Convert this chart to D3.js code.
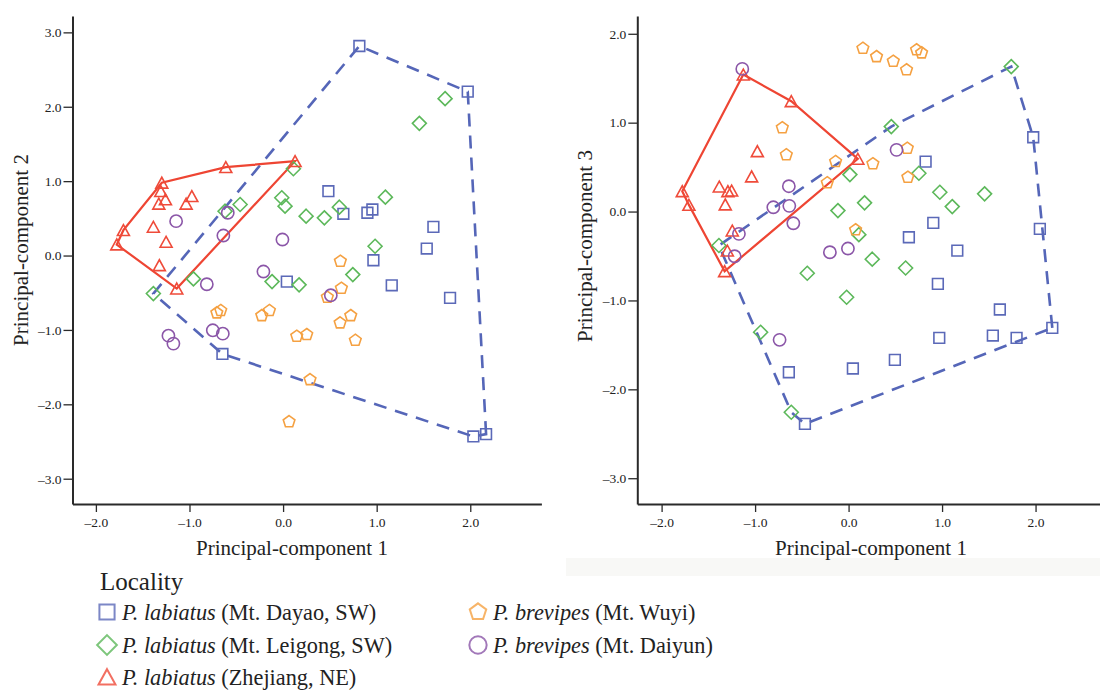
<!DOCTYPE html>
<html>
<head>
<meta charset="utf-8">
<script src="https://cdn.jsdelivr.net/npm/d3@7"></script>
<style>
  body { margin: 0; background: #fff; }
  svg { display: block; font-family: "Liberation Serif", "Times New Roman", serif; }
</style>
</head>
<body>
<svg id="chart" width="1100" height="690"></svg>
<script>
// --- data: PCA scores ---
// left panel: PC1 vs PC2
var pc12_dayao = [[0.815,2.817],[1.973,2.203],[0.484,0.865],[0.644,0.561],[0.901,0.575],[0.954,0.619],[1.606,0.386],[1.535,0.094],[0.965,-0.063],[0.040,-0.350],[1.161,-0.400],[1.784,-0.569],[-0.648,-1.323],[2.033,-2.432],[2.169,-2.400]];
var pc12_leigong = [[1.731,2.109],[1.456,1.777],[0.110,1.167],[-0.014,0.777],[0.021,0.664],[-0.459,0.686],[-0.620,0.596],[0.246,0.529],[0.441,0.507],[0.601,0.650],[1.093,0.785],[0.983,0.125],[0.745,-0.256],[0.171,-0.394],[-0.118,-0.350],[-0.958,-0.314],[-1.386,-0.511]];
var pc12_zhejiang = [[0.128,1.269],[-0.612,1.188],[-1.296,0.978],[-1.307,0.865],[-1.257,0.754],[-1.328,0.696],[-0.975,0.798],[-1.036,0.696],[-1.386,0.386],[-1.250,0.184],[-1.706,0.341],[-1.777,0.148],[-1.322,-0.131],[-1.136,-0.444]];
var pc12_wuyi = [[0.612,-0.077],[0.623,-0.440],[0.473,-0.561],[0.723,-0.808],[0.609,-0.906],[0.146,-1.086],[0.253,-1.063],[0.772,-1.140],[0.288,-1.669],[0.064,-2.234],[-0.708,-0.771],[-0.666,-0.740],[-0.228,-0.808],[-0.146,-0.740]];
var pc12_daiyun = [[-1.143,0.462],[-0.591,0.575],[-0.638,0.269],[-0.007,0.215],[-0.210,-0.215],[-0.815,-0.386],[-1.225,-1.077],[-1.172,-1.184],[-0.751,-1.005],[-0.644,-1.050],[0.510,-0.534]];

// right panel: PC1 vs PC3
var pc13_dayao = [[1.975,0.836],[2.046,-0.195],[2.179,-1.308],[0.824,0.562],[0.906,-0.127],[0.645,-0.289],[1.163,-0.439],[0.955,-0.813],[1.618,-1.102],[0.970,-1.421],[1.543,-1.395],[1.797,-1.421],[0.046,-1.766],[0.495,-1.668],[-0.639,-1.808],[-0.467,-2.388]];
var pc13_leigong = [[1.740,1.631],[0.457,0.956],[0.014,0.416],[0.752,0.431],[-0.114,0.011],[0.171,0.098],[0.976,0.217],[1.109,0.056],[1.455,0.199],[0.110,-0.260],[0.253,-0.536],[-0.442,-0.694],[0.610,-0.635],[-0.021,-0.964],[-0.941,-1.358],[-0.613,-2.258],[-1.387,-0.382]];
var pc13_zhejiang = [[-1.126,1.541],[-0.613,1.241],[-0.976,0.678],[-1.037,0.394],[-1.383,0.281],[-1.291,0.228],[-1.251,0.236],[-1.319,0.079],[-1.779,0.228],[-1.708,0.075],[-1.244,-0.214],[-1.297,-0.439],[-1.326,-0.672],[0.099,0.593]];
var pc13_wuyi = [[0.153,1.836],[0.299,1.743],[0.478,1.691],[0.620,1.594],[0.727,1.819],[0.781,1.785],[-0.709,0.942],[-0.666,0.638],[-0.139,0.562],[-0.228,0.323],[0.628,0.712],[0.260,0.537],[0.634,0.386],[0.075,-0.206]];
var pc13_daiyun = [[-1.137,1.605],[-0.639,0.285],[-0.805,0.048],[-0.634,0.064],[-0.591,-0.132],[-1.173,-0.251],[-1.219,-0.503],[-0.200,-0.458],[-0.007,-0.416],[0.513,0.694],[-0.738,-1.443]];

var xTicks = [-2, -1, 0, 1, 2];
var yTicksLeft = [-3, -2, -1, 0, 1, 2, 3];
var yTicksRight = [-3, -2, -1, 0, 1, 2];

var groupNames = ["dayao", "leigong", "zhejiang", "wuyi", "daiyun"];
var legendSpecies = ["P. labiatus", "P. labiatus", "P. labiatus", "P. brevipes", "P. brevipes"];
var legendPlaces = [" (Mt. Dayao, SW)", " (Mt. Leigong, SW)", " (Zhejiang, NE)", " (Mt. Wuyi)", " (Mt. Daiyun)"];

// styles
var colors = { dayao: "#5b69b8", leigong: "#5cb85a", zhejiang: "#ef4b3a", wuyi: "#f5a142", daiyun: "#8b56a8" };

// custom symbols
var sqSym = { draw: function(c, s) { var h = Math.sqrt(s) / 2; c.rect(-h, -h, 2*h, 2*h); } };
var diaSym = { draw: function(c, s) { var h = Math.sqrt(s) / 2 * 1.3; c.moveTo(0,-h); c.lineTo(h,0); c.lineTo(0,h); c.lineTo(-h,0); c.closePath(); } };
var triSym = { draw: function(c, s) { var r = Math.sqrt(s) / 1.55; for (var i = 0; i < 3; i++) { var a = -Math.PI/2 + i*2*Math.PI/3; if (i==0) c.moveTo(r*Math.cos(a), r*Math.sin(a)*1.05+r*0.25); else c.lineTo(r*Math.cos(a), r*Math.sin(a)*1.05+r*0.25); } c.closePath(); } };
var circSym = { draw: function(c, s) { var r = Math.sqrt(s) / 1.75; c.moveTo(r,0); c.arc(0,0,r,0,2*Math.PI); } };
var pentSym = { draw: function(c, s) { var r = Math.sqrt(s) / 1.75; for (var i = 0; i < 5; i++) { var a = -Math.PI/2 + i*2*Math.PI/5; if (i==0) c.moveTo(r*Math.cos(a), r*Math.sin(a)); else c.lineTo(r*Math.cos(a), r*Math.sin(a)); } c.closePath(); } };
var symbols = { dayao: sqSym, leigong: diaSym, zhejiang: triSym, wuyi: pentSym, daiyun: circSym };

var svg = d3.select("#chart");

// faint scan band under right panel
svg.append("rect").attr("x", 566).attr("y", 558).attr("width", 534).attr("height", 18)
   .attr("fill", "#f8f8f6");

function fmt(d) { return (d < 0 ? "\u2013" : "") + Math.abs(d).toFixed(1); }

function panel(cfg) {
  var g = svg.append("g");
  var x = d3.scaleLinear().domain(cfg.xDomain).range(cfg.xRange);
  var y = d3.scaleLinear().domain(cfg.yDomain).range([504, 16]);

  var xAxis = g.append("g").attr("transform", "translate(0,504)")
    .call(d3.axisBottom(x).tickValues(xTicks).tickFormat(fmt).tickSize(8).tickSizeOuter(0).tickPadding(5));
  var yAxis = g.append("g").attr("transform", "translate(" + cfg.xRange[0] + ",0)")
    .call(d3.axisLeft(y).tickValues(cfg.yTicks).tickFormat(fmt).tickSize(9).tickSizeOuter(0).tickPadding(2));
  [xAxis, yAxis].forEach(function(a) {
    a.attr("font-family", "Liberation Serif");
    a.select(".domain").attr("stroke", "#2a2a2a").attr("stroke-width", 2);
    a.selectAll(".tick line").attr("stroke", "#2a2a2a").attr("stroke-width", 1.3);
    a.selectAll(".tick text").attr("font-size", 13.5).attr("fill", "#222");
  });

  g.append("text").attr("x", cfg.xTitleX).attr("y", 555).attr("text-anchor", "middle")
    .attr("font-size", 21).attr("fill", "#222").text("Principal-component 1");
  g.append("text").attr("transform", "translate(" + cfg.yTitleX + "," + cfg.yTitleY + ") rotate(-90)")
    .attr("text-anchor", "middle").attr("font-size", 21).attr("fill", "#222").text(cfg.yLabel);

  // hulls: dashed round the two SW localities, solid round Zhejiang
  var sw = cfg.data.dayao.concat(cfg.data.leigong);
  var swHull = d3.polygonHull(sw.map(function(d) { return [x(d[0]), y(d[1])]; }));
  g.append("path").attr("d", "M" + swHull.join("L") + "Z")
    .attr("fill", "none").attr("stroke", "#5566b8").attr("stroke-width", 2.6).attr("stroke-dasharray", "13,9");
  var neHull = d3.polygonHull(cfg.data.zhejiang.map(function(d) { return [x(d[0]), y(d[1])]; }));
  g.append("path").attr("d", "M" + neHull.join("L") + "Z")
    .attr("fill", "none").attr("stroke", "#ee4533").attr("stroke-width", 2.2);

  // points
  groupNames.forEach(function(name) {
    g.append("g").selectAll("path").data(cfg.data[name]).join("path")
      .attr("transform", function(d) { return "translate(" + x(d[0]) + "," + y(d[1]) + ")"; })
      .attr("d", d3.symbol().type(symbols[name]).size(115))
      .attr("fill", "none").attr("stroke", colors[name]).attr("stroke-width", 1.6);
  });
}

panel({
  xDomain: [-2.25, 2.76], xRange: [72.5, 541.4], yDomain: [-3.34, 3.22], yTicks: yTicksLeft,
  xTitleX: 292, yTitleX: 28, yTitleY: 250, yLabel: "Principal-component 2",
  data: { dayao: pc12_dayao, leigong: pc12_leigong, zhejiang: pc12_zhejiang, wuyi: pc12_wuyi, daiyun: pc12_daiyun }
});
panel({
  xDomain: [-2.26, 2.7], xRange: [637.3, 1101], yDomain: [-3.29, 2.2], yTicks: yTicksRight,
  xTitleX: 871, yTitleX: 592, yTitleY: 246, yLabel: "Principal-component 3",
  data: { dayao: pc13_dayao, leigong: pc13_leigong, zhejiang: pc13_zhejiang, wuyi: pc13_wuyi, daiyun: pc13_daiyun }
});

// legend
var lg = svg.append("g");
lg.append("text").attr("x", 100).attr("y", 590).attr("font-size", 25).attr("fill", "#222").text("Locality");
var legendPos = [[107, 612], [107, 645], [107, 677], [478, 612], [478, 645]];
groupNames.forEach(function(name, i) {
  var p = legendPos[i];
  lg.append("path").attr("transform", "translate(" + p[0] + "," + p[1] + ")")
    .attr("d", d3.symbol().type(symbols[name]).size(230))
    .attr("fill", "none").attr("stroke", colors[name]).attr("stroke-width", 2).attr("opacity", 0.8);
  var t = lg.append("text").attr("x", p[0] + 15).attr("y", p[1] + 7.5).attr("font-size", 22.3).attr("fill", "#222");
  t.append("tspan").attr("font-style", "italic").text(legendSpecies[i]);
  t.append("tspan").text(legendPlaces[i]);
});
</script>
</body>
</html>
